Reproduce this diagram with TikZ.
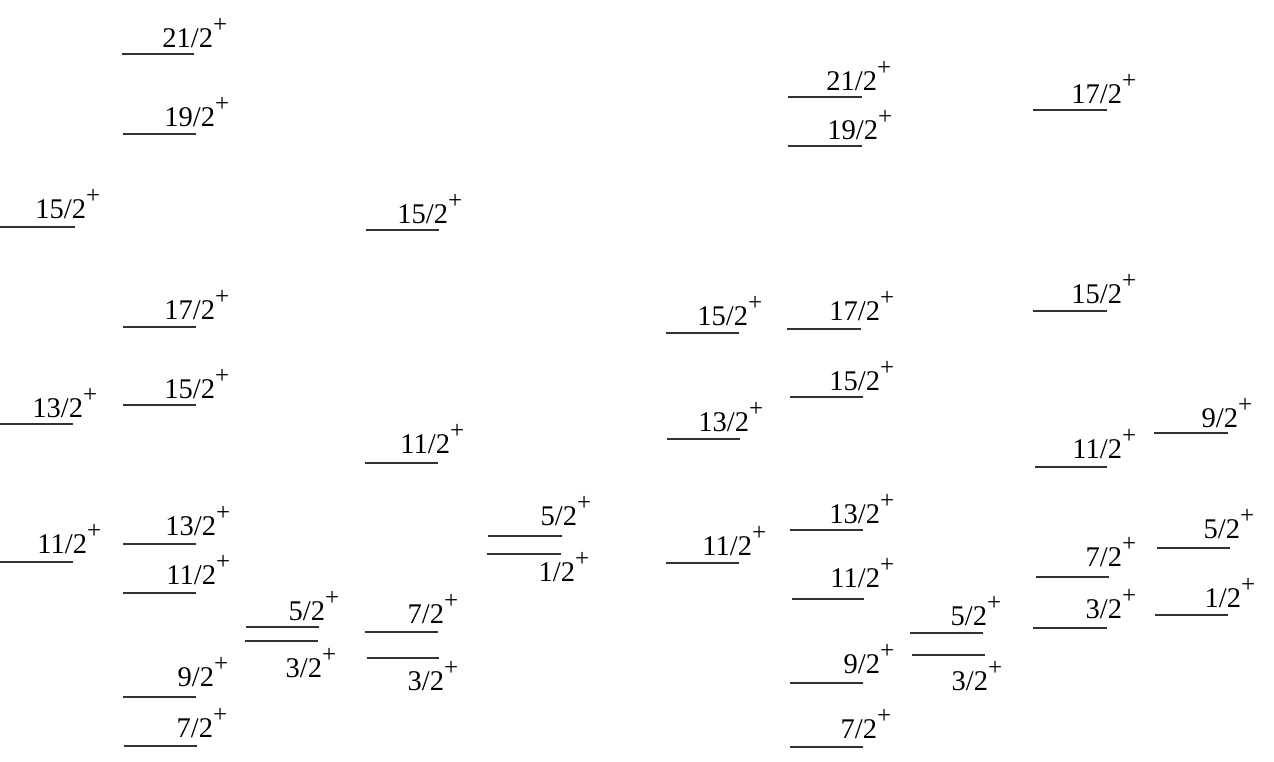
\documentclass[tikz,border=0pt]{standalone}
\usepackage{fontspec}
\setmainfont{Liberation Serif}
\newcommand{\plussup}{\rlap{\raisebox{15pt}{\fontsize{25}{25}\selectfont +}}}
\newcommand{\enlevel}[7]{%
  \coordinate (#1-l) at (#2,#4);
  \coordinate (#1-r) at (#3,#4);
  \draw[levelline] (#1-l) -- (#1-r);
  \node[lvllabel] (#1-t) at (#6,#7) {#5\plussup};
}
\tikzset{
  levelline/.style={line width=1.6pt, black!80},
  lvllabel/.style={anchor=base east, inner sep=0pt, outer sep=0pt, font=\fontsize{28.5}{30}\selectfont}
}
\begin{document}
\begin{tikzpicture}[x=1pt,y=-1pt]
\useasboundingbox (0,0) rectangle (1274,761);
% column 1
\enlevel{a1}{0}{75}{227}{15/2}{86}{218}
\enlevel{a2}{0}{73}{424}{13/2}{83}{417}
\enlevel{a3}{0}{73}{562}{11/2}{87}{553}
% column 2
\enlevel{b1}{122}{194}{54}{21/2}{213}{47}
\enlevel{b2}{123}{196}{134}{19/2}{215}{126}
\enlevel{b3}{123}{196}{327}{17/2}{215}{319}
\enlevel{b4}{123}{196}{405}{15/2}{215}{398}
\enlevel{b5}{123}{196}{544}{13/2}{216}{535}
\enlevel{b6}{123}{196}{593}{11/2}{216}{584}
\enlevel{b7}{123}{196}{697}{9/2}{214}{686}
\enlevel{b8}{124}{197}{746}{7/2}{213}{737}
% column 3
\enlevel{c1}{246}{319}{627}{5/2}{325}{620}
\enlevel{c2}{245}{318}{641}{3/2}{322}{677}
% column 4
\enlevel{d1}{366}{439}{230}{15/2}{448}{223}
\enlevel{d2}{365}{438}{463}{11/2}{450}{453}
\enlevel{d3}{365}{438}{632}{7/2}{444}{623}
\enlevel{d4}{367}{439}{658}{3/2}{444}{690}
% column 5
\enlevel{e1}{488}{562}{536}{5/2}{577}{525}
\enlevel{e2}{487}{561}{554}{1/2}{575}{581}
% column 6
\enlevel{f1}{666}{739}{333}{15/2}{748}{325}
\enlevel{f2}{667}{740}{439}{13/2}{749}{431}
\enlevel{f3}{666}{739}{563}{11/2}{752}{555}
% column 7
\enlevel{g1}{788}{862}{97}{21/2}{877}{90}
\enlevel{g2}{788}{862}{146}{19/2}{878}{139}
\enlevel{g3}{787}{861}{329}{17/2}{880}{320}
\enlevel{g4}{790}{863}{397}{15/2}{880}{390}
\enlevel{g5}{790}{863}{530}{13/2}{880}{523}
\enlevel{g6}{792}{864}{599}{11/2}{880}{587}
\enlevel{g7}{790}{863}{683}{9/2}{880}{673}
\enlevel{g8}{790}{863}{747}{7/2}{877}{738}
% column 8
\enlevel{h1}{910}{983}{633}{5/2}{987}{625}
\enlevel{h2}{912}{985}{655}{3/2}{988}{690}
% column 9
\enlevel{i1}{1033}{1107}{110}{17/2}{1122}{103}
\enlevel{i2}{1033}{1107}{311}{15/2}{1122}{303}
\enlevel{i3}{1035}{1107}{467}{11/2}{1122}{458}
\enlevel{i4}{1036}{1109}{577}{7/2}{1122}{566}
\enlevel{i5}{1033}{1107}{628}{3/2}{1122}{618}
% column 10
\enlevel{j1}{1154}{1228}{433}{9/2}{1238}{427}
\enlevel{j2}{1157}{1230}{548}{5/2}{1240}{538}
\enlevel{j3}{1155}{1228}{615}{1/2}{1241}{607}
\end{tikzpicture}
\end{document}
